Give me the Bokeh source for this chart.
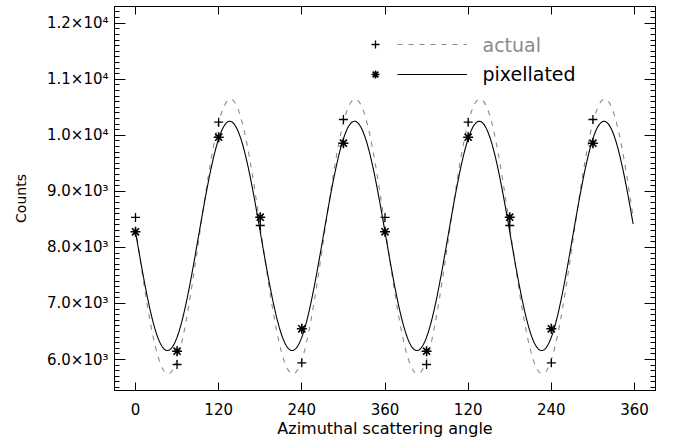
import numpy as np
from bokeh.plotting import figure
from bokeh.models import (LinearAxis, FixedTicker, SingleIntervalTicker, Range1d,
                          Legend, LegendItem, Label, CustomLabelingPolicy)
from bokeh.embed import file_html
from bokeh.resources import INLINE

# ---------------- data ----------------
angles = [0, 60, 120, 180, 240, 300]
actual_counts = [8534, 5911, 10234, 8391, 5941, 10282]
pixellated_counts = [8278, 6148, 9966, 8539, 6548, 9859]
period_offsets = [0, 360]          # the same six bins drawn for two turns

# fitted modulation curves  N(phi) = mean + amp * cos(2 (phi - phase))
actual_fit = dict(mean=8195.0, amp=2450.0, phase=137.0)
pixellated_fit = dict(mean=8205.0, amp=2045.0, phase=136.0)
curve_span = (0.0, 718.0)

x_tick_values = [0, 120, 240, 360, 480, 600, 720]
x_tick_labels = ["0", "120", "240", "360", "120", "240", "360"]
y_tick_values = [6000, 7000, 8000, 9000, 10000, 11000, 12000]
y_tick_labels = ["6.0×10³", "7.0×10³", "8.0×10³", "9.0×10³",
                 "1.0×10⁴", "1.1×10⁴", "1.2×10⁴"]

# ---------------- derived ----------------
pts_x = [a + off for off in period_offsets for a in angles]
pts_actual = [v for off in period_offsets for v in actual_counts]
pts_pix = [v for off in period_offsets for v in pixellated_counts]

phi = np.linspace(curve_span[0], curve_span[1], 800)


def model(fit):
    return fit["mean"] + fit["amp"] * np.cos(np.radians(2.0 * (phi - fit["phase"])))


FONT = "DejaVu Sans"

p = figure(frame_width=541, frame_height=384,
           x_range=Range1d(-30.3, 750.3), y_range=Range1d(5447, 12298),
           output_backend="svg", toolbar_location=None,
           min_border_left=114, min_border_right=10,
           min_border_top=6, min_border_bottom=0)
p.grid.visible = False
p.outline_line_color = "black"
p.background_fill_color = "white"

r_dash = p.line(phi, model(actual_fit), line_color="#8a8a8a", line_dash="5 6", line_width=1.1)
r_solid = p.line(phi, model(pixellated_fit), line_color="black", line_width=1.1)
r_plus = p.scatter(pts_x, pts_actual, marker="cross", size=9, line_color="black", line_width=1.3)
r_star = p.scatter(pts_x, pts_pix, marker="asterisk", size=10, line_color="black", line_width=1.6)

xticker = FixedTicker(ticks=x_tick_values, minor_ticks=[])
yticker = SingleIntervalTicker(interval=1000, num_minor_ticks=10)


def style_axis(ax, major_in):
    ax.axis_line_color = "black"
    ax.major_tick_line_color = "black"
    ax.minor_tick_line_color = "black"
    ax.major_tick_in = major_in
    ax.major_tick_out = 0
    ax.minor_tick_in = 5
    ax.minor_tick_out = 0
    ax.major_label_text_font = FONT
    ax.major_label_text_font_size = "15px"
    ax.major_label_text_color = "black"
    ax.axis_label_text_font = FONT
    ax.axis_label_text_font_style = "normal"
    ax.axis_label_text_color = "black"


def mirror_axis(ticker, major_in):
    ax = LinearAxis(ticker=ticker)
    style_axis(ax, major_in)
    ax.major_label_policy = CustomLabelingPolicy(code="return false")
    ax.major_label_text_font_size = "0px"
    ax.major_label_standoff = 0
    return ax


xa = p.xaxis[0]
xa.ticker = xticker
xa.major_label_overrides = dict(zip(x_tick_values, x_tick_labels))
style_axis(xa, 8)
xa.major_label_standoff = 12
xa.axis_label = "Azimuthal scattering angle"
xa.axis_label_text_font_size = "16px"
xa.axis_label_standoff = 1

ya = p.yaxis[0]
ya.ticker = yticker
ya.major_label_overrides = dict(zip(y_tick_values, y_tick_labels))
style_axis(ya, 11)
ya.major_label_standoff = 6
ya.axis_label = "Counts"
ya.axis_label_text_font_size = "14px"
ya.axis_label_standoff = 15

p.add_layout(mirror_axis(xticker, 8), "above")
p.add_layout(mirror_axis(yticker, 11), "right")

common = dict(glyph_height=20, label_height=20, spacing=10, padding=0, margin=0,
              border_line_alpha=0, background_fill_alpha=0, label_standoff=0,
              label_width=0, label_text_font_size="8px")
leg_m = Legend(items=[LegendItem(label=" ", renderers=[r_plus]),
                      LegendItem(label=" ", renderers=[r_star])],
               location=(251, 306), glyph_width=20, **common)
leg_l = Legend(items=[LegendItem(label=" ", renderers=[r_dash]),
                      LegendItem(label=" ", renderers=[r_solid])],
               location=(283, 306), glyph_width=70, **common)
p.add_layout(leg_m)
p.add_layout(leg_l)

p.add_layout(Label(x=368, y=346, x_units="screen", y_units="screen", text="actual",
                   text_color="#8a8a8a", text_font=FONT, text_font_size="19px",
                   text_baseline="middle"))
p.add_layout(Label(x=368, y=317, x_units="screen", y_units="screen", text="pixellated",
                   text_color="black", text_font=FONT, text_font_size="19px",
                   text_baseline="middle"))

open("out.html", "w").write(file_html(p, INLINE))
